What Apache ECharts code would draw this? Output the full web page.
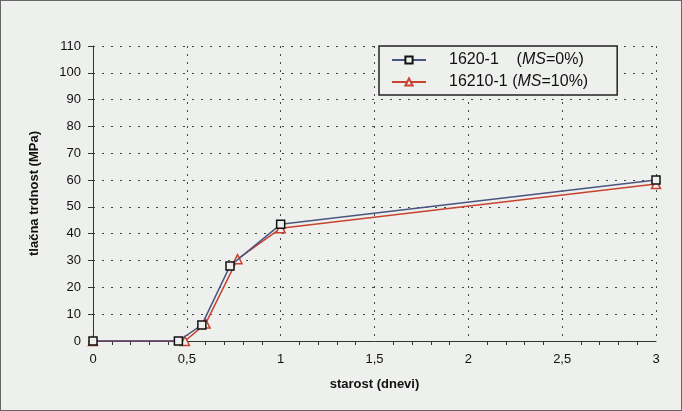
<!DOCTYPE html>
<html>
<head>
<meta charset="utf-8">
<script src="https://cdn.jsdelivr.net/npm/echarts@6/dist/echarts.min.js"></script>
<style>
html, body { margin: 0; padding: 0; background: #eef0ed; }
#chart { width: 682px; height: 411px; box-sizing: border-box; border: 1px solid #666; }
</style>
</head>
<body>
<div id="chart"></div>
<script>
// starost (dnevi) / tlačna trdnost (MPa)
var ageA = [0, 0.455, 0.58, 0.73, 1, 3];
var strengthA = [0, 0, 6, 28, 43.5, 60];
var ageB = [0, 0.49, 0.6, 0.77, 1, 3];
var strengthB = [0, 0, 6.5, 30.5, 42, 58.5];
var seriesNames = ['1620-1', '16210-1'];
var seriesMS = ['0%', '10%'];

function pairs(xs, ys) {
    return xs.map(function (x, i) { return [x, ys[i]]; });
}

var myChart = echarts.init(document.getElementById('chart'));
var option = {
    backgroundColor: '#eef0ed',
    animation: false,
    textStyle: { fontFamily: 'Liberation Sans, Arial, sans-serif' },
    grid: { left: 92, right: 25, top: 45, bottom: 69 },
    legend: {
        left: 378,
        top: 45,
        orient: 'vertical',
        borderColor: '#222',
        borderWidth: 1.5,
        padding: [6, 29, 5, 12],
        itemGap: 6,
        itemWidth: 34,
        itemHeight: 9,
        backgroundColor: '#eef0ed',
        formatter: function (name) {
            var i = seriesNames.indexOf(name);
            var pad = i === 0 ? '    ' : ' ';
            return name + pad + '({i|MS}=' + seriesMS[i] + ')';
        },
        textStyle: {
            fontSize: 16,
            color: '#111',
            padding: [0, 0, 0, 18],
            rich: { i: { fontStyle: 'italic', fontSize: 16, color: '#111' } }
        }
    },
    xAxis: {
        type: 'value',
        min: 0,
        max: 3,
        interval: 0.5,
        name: 'starost (dnevi)',
        nameLocation: 'middle',
        nameGap: 37,
        nameTextStyle: { fontSize: 13, fontWeight: 'bold', color: '#111' },
        axisLine: { lineStyle: { color: '#333', width: 1 } },
        axisTick: { show: false },
        minorTick: { show: true, splitNumber: 5, length: 4, lineStyle: { color: '#333' } },
        axisLabel: {
            fontSize: 13,
            color: '#111',
            margin: 12,
            formatter: function (v) { return String(v).replace('.', ','); }
        },
        splitLine: { show: true, lineStyle: { color: '#444', type: [2, 6], width: 1 } }
    },
    yAxis: {
        type: 'value',
        min: 0,
        max: 110,
        interval: 10,
        name: 'tlačna trdnost (MPa)',
        nameLocation: 'middle',
        nameGap: 52,
        nameTextStyle: { fontSize: 13, fontWeight: 'bold', color: '#111' },
        axisLine: { show: true, lineStyle: { color: '#333', width: 1 } },
        axisTick: { show: true, length: 5, lineStyle: { color: '#333' } },
        axisLabel: { fontSize: 13, color: '#111', margin: 12 },
        splitLine: { show: true, lineStyle: { color: '#444', type: [2, 7], width: 1 } }
    },
    series: [
        {
            name: seriesNames[0],
            type: 'line',
            data: pairs(ageA, strengthA),
            symbol: 'rect',
            symbolSize: 8,
            color: '#4a5680',
            lineStyle: { color: '#4a5680', width: 1.5 },
            itemStyle: { color: '#eef0ed', borderColor: '#111', borderWidth: 1.5 },
            z: 3
        },
        {
            name: seriesNames[1],
            type: 'line',
            data: pairs(ageB, strengthB),
            symbol: 'triangle',
            symbolSize: 9,
            color: '#c8432f',
            lineStyle: { color: '#c8432f', width: 1.5 },
            itemStyle: { color: '#eef0ed', borderColor: '#c8432f', borderWidth: 1.5 },
            z: 2
        }
    ]
};
myChart.setOption(option);
</script>
</body>
</html>
